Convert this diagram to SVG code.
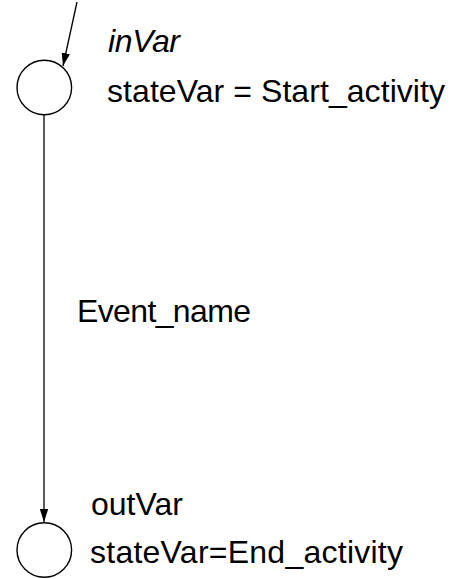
<svg xmlns="http://www.w3.org/2000/svg" width="454" height="579" viewBox="0 0 454 579">
<style>
.st{fill:#fff;stroke:#000;stroke-width:1.4}
.ln{stroke:#000;stroke-width:1.3;fill:none}
text{font-family:"Liberation Sans",Arial,sans-serif;font-size:32px;fill:#000}
.it{font-style:italic}
</style>
<defs>
<marker id="ah" markerWidth="14" markerHeight="10" refX="13" refY="5" orient="auto" markerUnits="userSpaceOnUse">
<path d="M0,0.8 L13,5 L0,9.2 Z" fill="#000"/>
</marker>
</defs>
<g id="connectors">
<line class="ln" x1="77" y1="2" x2="63" y2="66" marker-end="url(#ah)"/>
<line class="ln" x1="44" y1="115" x2="44" y2="522" marker-end="url(#ah)"/>
</g>
<g id="start">
<circle class="st" cx="44.3" cy="87.5" r="27.3"/>
<text x="108" y="52" class="it" textLength="72" lengthAdjust="spacing">inVar</text>
<text x="107" y="102" textLength="338" lengthAdjust="spacing">stateVar = Start_activity</text>
</g>
<g id="label">
<text x="77" y="322" textLength="174" lengthAdjust="spacing">Event_name</text>
</g>
<g id="end">
<circle class="st" cx="44.3" cy="550" r="27.3"/>
<text x="91" y="515">outVar</text>
<text x="90" y="563" textLength="313" lengthAdjust="spacing">stateVar=End_activity</text>
</g>
</svg>
